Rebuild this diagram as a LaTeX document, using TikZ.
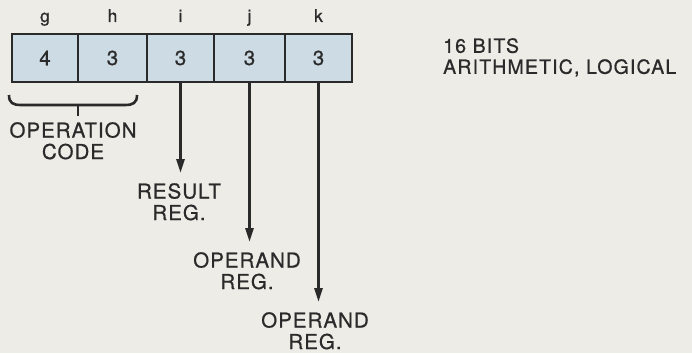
\documentclass[tikz,border=0pt]{standalone}
\usepackage{fontspec}
\setmainfont{TeX Gyre Heros}[FakeBold=0.7]
\usetikzlibrary{arrows.meta,positioning,calc}
\definecolor{paper}{RGB}{238,236,231}
\definecolor{field}{RGB}{205,220,228}
\definecolor{ink}{RGB}{42,42,42}

\begin{document}
\begin{tikzpicture}[x=1pt,y=-1pt,
    fieldbox/.style={draw=ink,line width=2.8pt,fill=field,minimum height=48pt,inner sep=0pt,
      font=\fontsize{20.5}{20.5}\selectfont,text=ink},
    fieldname/.style={anchor=base,font=\fontsize{17.5}{17.5}\selectfont,text=ink},
    caption/.style={anchor=north,align=center,inner sep=0pt,text=ink,
      font=\fontsize{20.5}{21.5}\selectfont\addfontfeature{LetterSpace=5}},
    regarrow/.style={ink,line width=2.6pt,shorten >=10pt,-{Triangle[length=14pt,width=8pt]}}]
  \fill[paper] (0,0) rectangle (692,353);
  \useasboundingbox (0,0) rectangle (692,353);

  % instruction fields
  \foreach \n/\xa/\xb/\v in {g/12/78/4, h/78/147/3, i/147/214/3, j/214/285/3, k/285/352/3}{
    \node[fieldbox,minimum width={(\xb-\xa)*1pt}] (\n) at ({(\xa+\xb)/2},58) {\v};
    \node[fieldname] (\n name) at ({(\xa+\xb)/2},22) {\n};
  }

  \node[anchor=north west,align=left,inner sep=0pt,text=ink,
    font=\fontsize{19.5}{21}\selectfont\addfontfeature{LetterSpace=6}] (fmt) at (443,38)
    {16 BITS\\ARITHMETIC, LOGICAL};

  % operation code brace
  \node[caption] (opcode) at (73,122) {OPERATION\\CODE};
  \coordinate (bl) at (9,95);
  \coordinate (br) at (137,95);
  \coordinate (bm) at (78,105);
  \draw[ink,line width=2.6pt] (bl) .. controls (9,103) and (13,105) .. (21,105)
    -- (125,105) .. controls (133,105) and (137,103) .. (br);
  \draw[ink,line width=2.6pt,shorten >=6pt] (bm) -- (bm |- opcode.north);

  % register fields
  \node[caption] (res) at (179,183) {RESULT\\REG.};
  \node[caption] (opa) at (247,252) {OPERAND\\REG.};
  \node[caption] (opb) at (315,312) {OPERAND\\REG.};
  \draw[regarrow] (i.south) -- (i.south |- res.north);
  \draw[regarrow] (j.south) -- (j.south |- opa.north);
  \draw[regarrow] (k.south) -- (k.south |- opb.north);
\end{tikzpicture}
\end{document}
